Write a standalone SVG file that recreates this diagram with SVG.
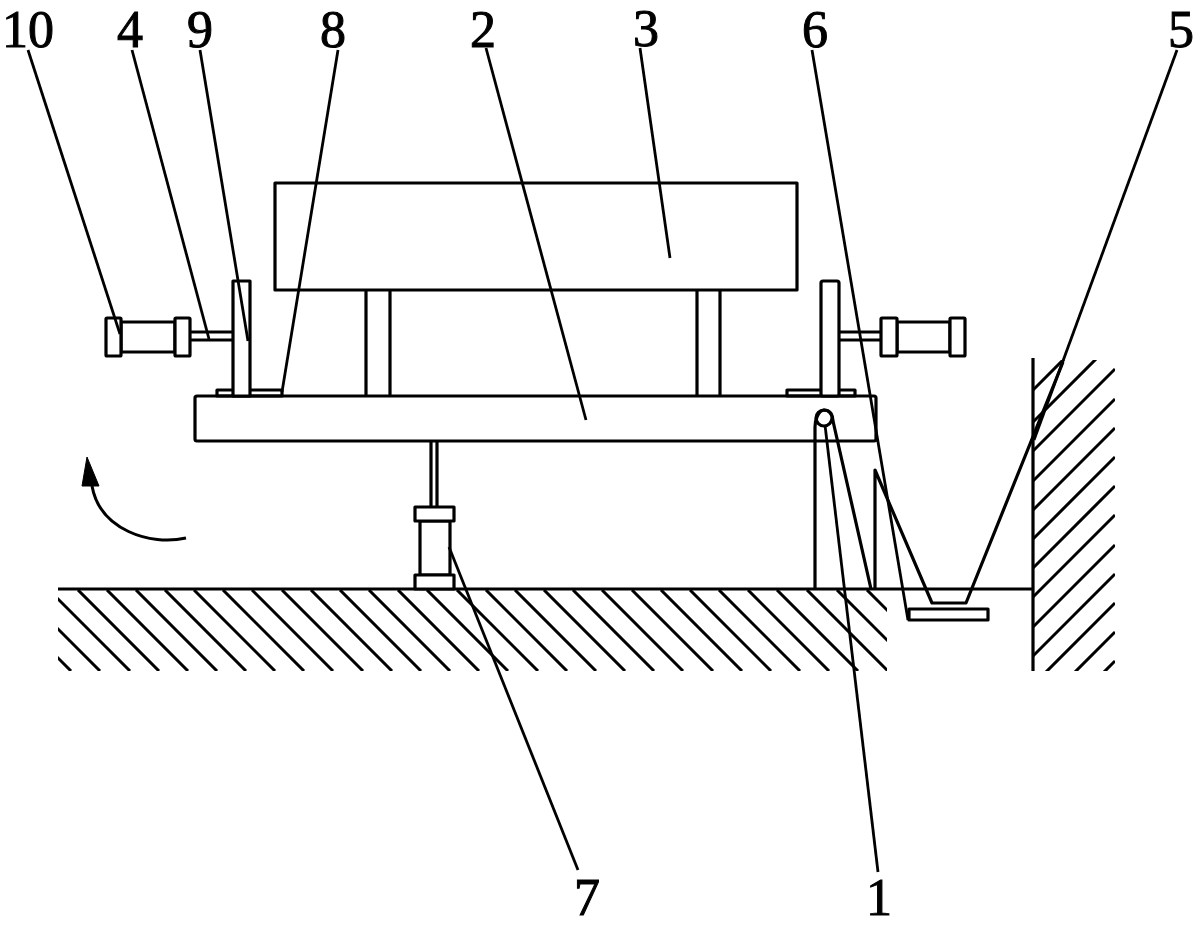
<svg xmlns="http://www.w3.org/2000/svg" width="1198" height="927" viewBox="0 0 1198 927">
<style>
.s{fill:none;stroke:#000;stroke-width:3.2;stroke-linejoin:round}
.w{fill:#fff;stroke:#000;stroke-width:3.2;stroke-linejoin:round}
.h{fill:none;stroke:#000;stroke-width:3}
.l{fill:none;stroke:#000;stroke-width:2.8}
text{font-family:"Liberation Serif","Times New Roman",serif;font-size:52px;fill:#000;stroke:#000;stroke-width:1;text-anchor:middle}
</style>
<defs>
<clipPath id="cg"><rect x="58" y="590" width="829" height="81"/></clipPath>
<clipPath id="cw"><rect x="1033" y="360" width="82" height="311"/></clipPath>
</defs>
<rect width="1198" height="927" fill="#fff"/>
<g id="ground">
<path class="s" d="M58 589H1033"/>
<path class="h" clip-path="url(#cg)" d="M-10 590l81 81M19 590l81 81M49 590l81 81M78 590l81 81M107 590l81 81M136 590l81 81M165 590l81 81M194 590l81 81M223 590l81 81M252 590l81 81M282 590l81 81M311 590l81 81M340 590l81 81M369 590l81 81M398 590l81 81M427 590l81 81M457 590l81 81M486 590l81 81M515 590l81 81M544 590l81 81M573 590l81 81M602 590l81 81M632 590l81 81M661 590l81 81M690 590l81 81M719 590l81 81M748 590l81 81M777 590l81 81M807 590l81 81M837 590l81 81M867 590l81 81"/>
</g>
<g id="wall">
<path class="s" d="M1033 358V671"/>
<path class="h" clip-path="url(#cw)" d="M1033 390l82-82M1033 422l82-82M1033 451l82-82M1033 481l82-82M1033 510l82-82M1033 539l82-82M1033 568l82-82M1033 597l82-82M1033 627l82-82M1033 656l82-82M1033 685l82-82M1033 714l82-82M1033 743l82-82"/>
</g>
<g id="pit">
<path class="s" d="M875 589V470L932 603H966L1063 362"/>
<rect class="s" x="909" y="609" width="79" height="11"/>
</g>
<g id="table3">
<path class="s" d="M366 290V396M390 290V396M697 290V396M720 290V396"/>
<rect class="w" x="275" y="183" width="522" height="107"/>
</g>
<g id="platform2">
<rect class="w" x="195" y="396" width="681" height="45" rx="2"/>
</g>
<g id="plates8">
<rect class="s" x="217" y="390" width="65" height="6"/>
<rect class="s" x="787" y="390" width="68" height="6"/>
</g>
<g id="clampLeft">
<path class="s" d="M190 332H233M190 340H233"/>
<rect class="w" x="233" y="281" width="17" height="115"/>
<rect class="w" x="121" y="322" width="54" height="30"/>
<rect class="w" x="106" y="318" width="15" height="38" rx="1"/>
<rect class="w" x="175" y="318" width="15" height="38" rx="1"/>
</g>
<g id="clampRight">
<path class="s" d="M839 332H881M839 340H881"/>
<rect class="w" x="821" y="281" width="18" height="115" rx="2"/>
<rect class="w" x="897" y="322" width="53" height="30"/>
<rect class="w" x="881" y="318" width="16" height="38" rx="1"/>
<rect class="w" x="950" y="318" width="15" height="38" rx="1"/>
</g>
<g id="hinge1">
<path class="s" d="M815 589V427C815 420 818 411 824 410C831 410 833 416 833 421L871 589"/>
<circle class="s" cx="824" cy="418" r="8"/>
</g>
<g id="cylinder7">
<path class="s" d="M431 441V507M437 441V507"/>
<rect class="w" x="420" y="521" width="30" height="54"/>
<rect class="w" x="415" y="507" width="39" height="14"/>
<rect class="w" x="415" y="575" width="39" height="14"/>
</g>
<g id="rotation-arrow">
<path d="M186 538C150 546 100 530 92 486" fill="none" stroke="#000" stroke-width="3"/>
<path d="M87 457L99 486H82Z" fill="#000" stroke="#000"/>
</g>
<g id="connectors">
<path class="l" d="M28 50L120 334"/>
<path class="l" d="M132 50L209 339"/>
<path class="l" d="M200 50L248 341"/>
<path class="l" d="M338 50L282 392"/>
<path class="l" d="M486 48L586 420"/>
<path class="l" d="M640 48L670 258"/>
<path class="l" d="M812 50L908 620"/>
<path class="l" d="M1177 50L1034 440"/>
<path class="l" d="M449 547L578 870"/>
<path class="l" d="M825 425L878 872"/>
</g>
<g id="labels">
<text x="28" y="47">10</text>
<text x="130" y="47">4</text>
<text x="200" y="47">9</text>
<text x="333" y="47">8</text>
<text x="483" y="47">2</text>
<text x="646" y="46">3</text>
<text x="815" y="47">6</text>
<text x="1181" y="47">5</text>
<text x="587" y="915">7</text>
<text x="879" y="915">1</text>
</g>
</svg>
